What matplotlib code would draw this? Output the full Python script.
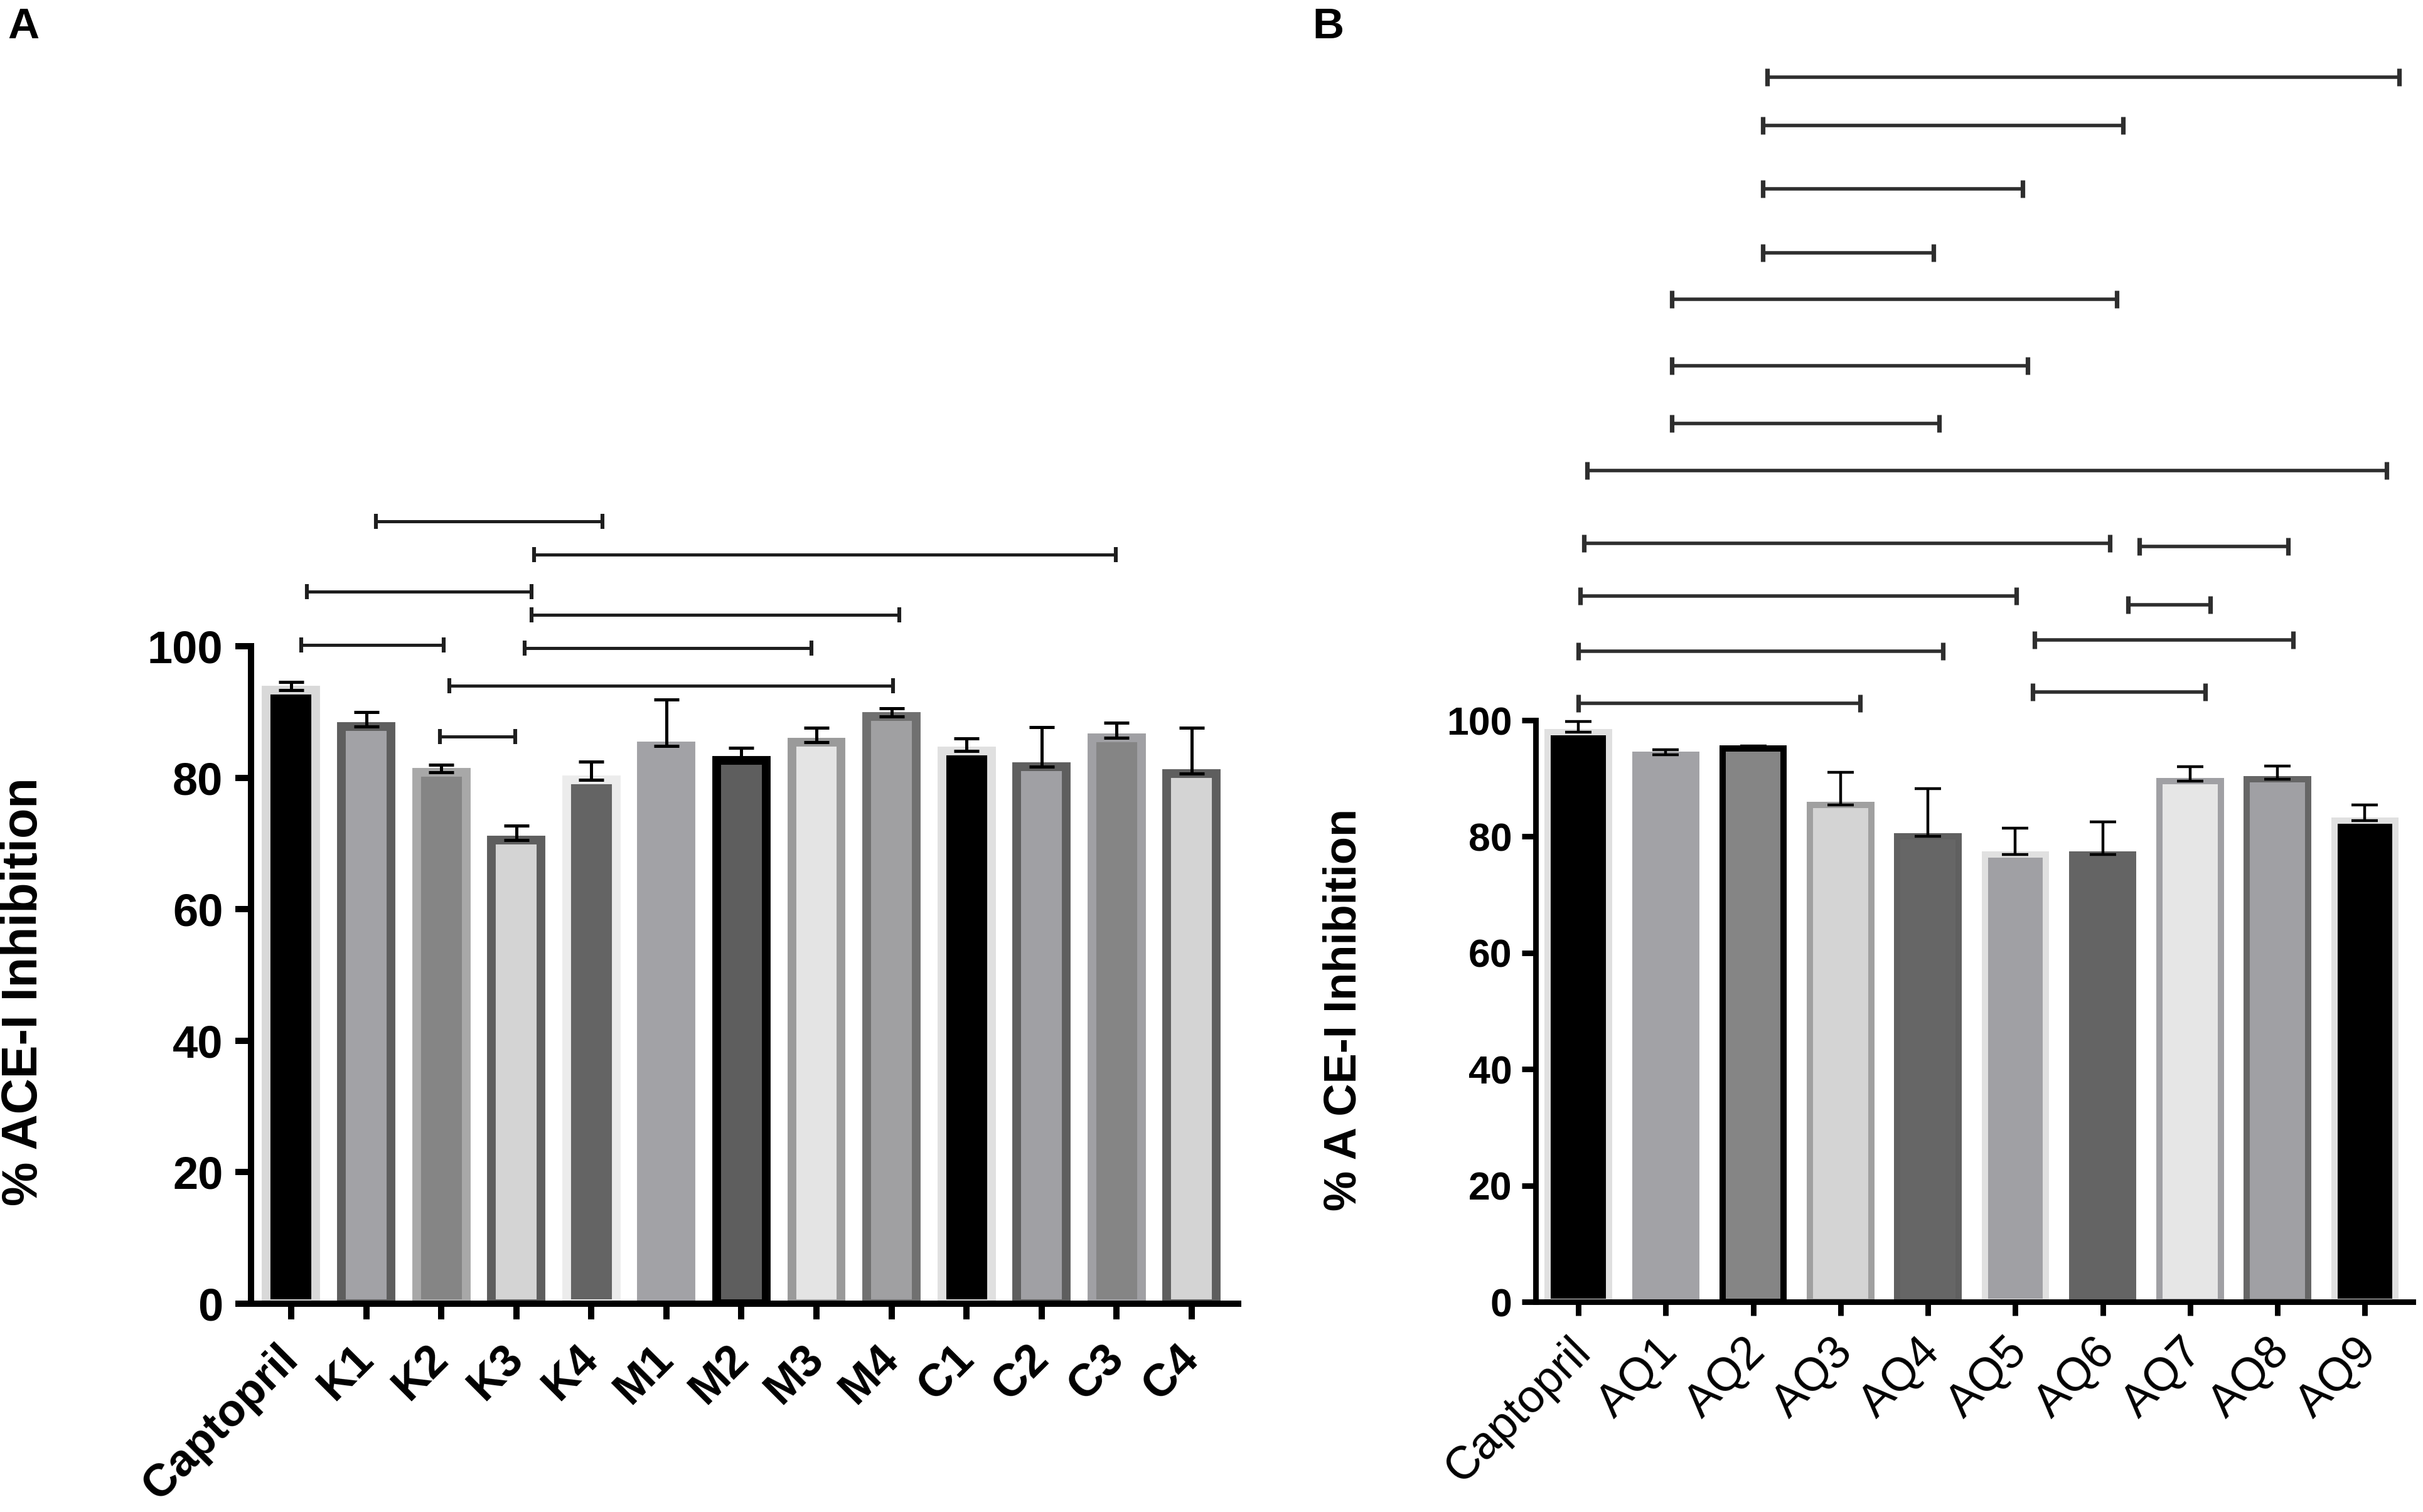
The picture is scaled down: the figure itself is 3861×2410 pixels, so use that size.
import matplotlib
matplotlib.use('Agg')
import matplotlib.pyplot as plt
import matplotlib.transforms as mtransforms
from matplotlib import font_manager
import numpy as np


# panel A data
labels_a = ['Captopril', 'K1', 'K2', 'K3', 'K4', 'M1', 'M2', 'M3', 'M4', 'C1', 'C2', 'C3', 'C4']
values_a = [93.3, 87.8, 80.8, 70.5, 79.7, 84.8, 82.6, 85.4, 89.3, 84.1, 81.7, 86.1, 80.6]
errors_a = [1.3, 2.2, 1.2, 2.2, 2.7, 7.1, 1.9, 2.2, 1.3, 1.9, 6.0, 2.3, 7.0]
fill_a = ['#000000', '#a2a2a6', '#858585', '#d4d4d4', '#646464', '#a2a2a6', '#5e5e5e',
          '#e4e4e4', '#a0a0a2', '#000000', '#a0a0a4', '#858585', '#d4d4d4']
edge_a = ['#d9d9d9', '#5e5e5e', '#a8a8a8', '#5e5e5e', '#ececec', '#a2a2a6', '#000000',
          '#9a9a9a', '#707070', '#e0e0e0', '#5e5e5e', '#a0a0a4', '#5e5e5e']

# panel A significance bars (start / end in category units, height in %)
brk_a_start = [1.13, 3.24, 0.21, 3.20, 0.13, 3.11, 2.11, 1.98]
brk_a_end = [4.15, 10.99, 3.20, 8.10, 2.03, 6.93, 8.02, 2.99]
brk_a_y = [119.0, 113.9, 108.3, 104.8, 100.2, 99.7, 94.0, 86.3]

# panel B data
labels_b = ['Captopril', 'AQ1', 'AQ2', 'AQ3', 'AQ4', 'AQ5', 'AQ6', 'AQ7', 'AQ8', 'AQ9']
values_b = [98.0, 94.1, 95.2, 85.4, 80.0, 76.9, 76.9, 89.5, 89.9, 82.7]
errors_b = [1.8, 0.8, 0.4, 5.7, 8.2, 4.5, 5.6, 2.5, 2.2, 2.7]
fill_b = ['#000000', '#a2a2a6', '#858585', '#d4d4d4', '#666666', '#a0a0a4', '#646464',
          '#e6e6e6', '#a0a0a4', '#000000']
edge_b = ['#e0e0e0', '#a2a2a6', '#000000', '#a0a0a0', '#606060', '#e0e0e0', '#646464',
          '#a0a0a4', '#666666', '#e0e0e0']

brk_b_start = [2.16, 2.11, 2.11, 2.11, 1.07, 1.07, 1.07, 0.10, 0.06, 6.42, 0.02, 6.29, 5.22, 0.00, 5.20, 0.00]
brk_b_end = [9.39, 6.23, 5.08, 4.06, 6.16, 5.14, 4.13, 9.25, 6.08, 8.12, 5.01, 7.23, 8.18, 4.17, 7.17, 3.22]
brk_b_y = [210.6, 202.3, 191.4, 180.4, 172.4, 161.0, 151.0, 142.9, 130.4, 129.9, 121.4, 119.8,
           113.8, 111.9, 104.9, 102.9]


names = {f.name for f in font_manager.fontManager.ttflist}
narrow = 'Liberation Sans Narrow' if 'Liberation Sans Narrow' in names else 'Liberation Sans'
plt.rcParams['font.family'] = ['Liberation Sans', 'DejaVu Sans']


def draw_panel(fig, ax, labels, values, errors, fills, edges, bstart, bend, by, style):

    x = np.arange(len(labels))
    ax.bar(x, values, width=style['width'], color=fills, edgecolor=edges,
           linewidth=style['edge_lw'], zorder=2)
    ax.errorbar(x, values, yerr=[np.zeros(len(errors)), errors], fmt='none',
                ecolor='black', elinewidth=style['err_lw'], capsize=style['cap'],
                capthick=style['err_lw'], zorder=3)

    # significance lines
    for x1, x2, y in zip(bstart, bend, by):
        ax.plot([x1, x2], [y, y], color=style['brk_color'], lw=style['brk_lw'],
                marker='|', ms=style['brk_ms'], mew=style['brk_mew'],
                solid_capstyle='butt', zorder=4)

    ax.set_xlim(style['xlim'])
    ax.set_ylim(0, style['ytop'])
    ax.set_yticks([0, 20, 40, 60, 80, 100])
    ax.spines['left'].set_bounds(0, 100)
    ax.spines['top'].set_visible(False)
    ax.spines['right'].set_visible(False)
    for s in ['left', 'bottom']:
        ax.spines[s].set_linewidth(style['spine_lw'])
    ax.tick_params(axis='both', width=style['spine_lw'], length=style['tick_len'], direction='out')
    ax.tick_params(axis='y', pad=style['ypad'])
    ax.tick_params(axis='x', pad=style['xpad'])

    ax.set_xticks(x)
    ax.set_xticklabels(labels, rotation=45, ha='right', va='top', rotation_mode='anchor',
                       fontsize=style['xfs'], fontweight=style['xweight'])
    # nudge rotated labels so they end just under the tick
    shift = mtransforms.ScaledTranslation(style['xshift'] / 200, style['yshift'] / 200,
                                          fig.dpi_scale_trans)
    for t in ax.get_xticklabels():
        t.set_transform(t.get_transform() + shift)
    for t in ax.get_yticklabels():
        t.set_fontfamily([narrow, 'Liberation Sans', 'DejaVu Sans'])
        t.set_fontweight('bold')
        t.set_fontsize(style['yfs'])


def main():

    fig = plt.figure(figsize=(3862 / 200, 2410 / 200), dpi=200)

    ax_a = fig.add_axes([0.10357, 0.13776, 0.40730, 0.54357])
    style_a = dict(width=0.66, edge_lw=5.0, err_lw=1.8, cap=7.2, brk_color='#1e1e1e',
                   brk_lw=1.8, brk_ms=8.5, brk_mew=2.2, xlim=(-0.535, 12.62), ytop=125,
                   spine_lw=3.6, tick_len=9, ypad=7, xpad=8, xfs=26, xweight='bold', yfs=26,
                   xshift=-24, yshift=-6)
    draw_panel(fig, ax_a, labels_a, values_a, errors_a, fill_a, edge_a,
               brk_a_start, brk_a_end, brk_a_y, style_a)

    ax_b = fig.add_axes([0.63361, 0.13900, 0.36199, 0.82699])
    style_b = dict(width=0.70, edge_lw=3.6, err_lw=1.6, cap=7.5, brk_color='#2e2e2e',
                   brk_lw=2.0, brk_ms=10, brk_mew=2.6, xlim=(-0.49, 9.55), ytop=215,
                   spine_lw=3.2, tick_len=8, ypad=5.5, xpad=8, xfs=26.5, xweight='normal', yfs=22.5,
                   xshift=-16, yshift=0)
    draw_panel(fig, ax_b, labels_b, values_b, errors_b, fill_b, edge_b,
               brk_b_start, brk_b_end, brk_b_y, style_b)

    # axis titles
    fig.text(0.0100, 0.344, '% ACE-I Inhibition', rotation=90, ha='center', va='center',
             fontsize=28.5, fontweight='bold')
    fig.text(0.5545, 0.332, '% A CE-I Inhibition', rotation=90, ha='center', va='center',
             fontsize=26, fontweight='bold')

    # panel letters
    fig.text(0.0096, 0.982, 'A', ha='center', va='center', fontsize=25, fontweight='bold')
    fig.text(0.5480, 0.982, 'B', ha='center', va='center', fontsize=25, fontweight='bold')

    fig.savefig('out.png', dpi=200, facecolor='white')


if __name__ == '__main__':

    main()
